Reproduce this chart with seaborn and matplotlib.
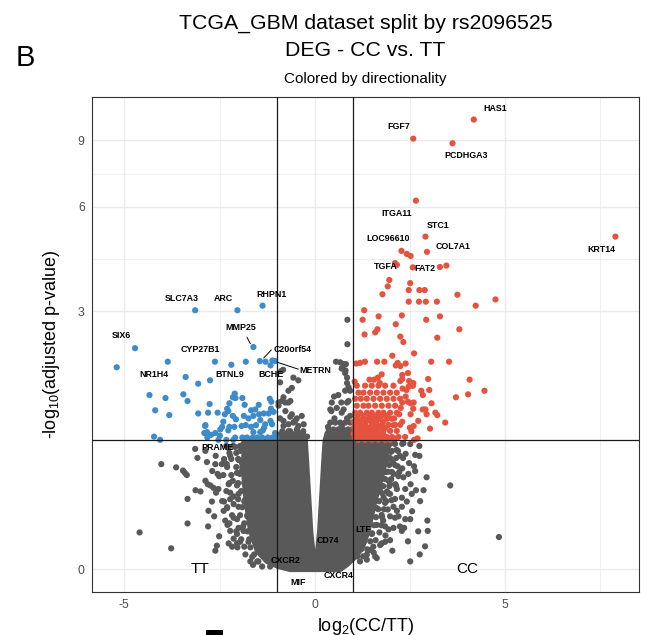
import numpy as np
import pandas as pd
import matplotlib
matplotlib.use("Agg")
import matplotlib.pyplot as plt
import seaborn as sns
from matplotlib.patches import Rectangle

sns.set_theme(style="white")
plt.rcParams['font.family'] = ['Liberation Sans', 'DejaVu Sans']
plt.rcParams['mathtext.default'] = 'regular'
plt.rcParams['text.color'] = 'black'
plt.rcParams['axes.labelcolor'] = 'black'

# ---------------- data: log2 fold change (x) and -log10 adjusted p (y) ----------------
# up-regulated in CC (significant)
up_x = [4.18, 2.59, 3.62, 2.66, 2.91, 2.95, 2.28, 2.42, 2.52, 7.90, 2.11, 2.16, 2.58, 3.29, 3.46,
        1.96, 1.92, 1.78, 2.51, 2.47, 2.75, 2.89, 3.75, 4.75,
        4.23, 2.47, 2.74, 2.92, 3.21,
        1.30, 1.26, 1.68, 2.29, 2.13, 2.93, 3.29,
        1.31, 1.59, 1.65, 2.25, 2.33, 3.22, 3.80,
        2.61, 2.04,
        1.32, 1.19, 1.09, 1.64, 1.83, 2.18, 3.06, 3.53,
        2.13, 2.25, 2.39,
        1.76, 1.66, 1.56, 1.44, 2.30, 2.30, 2.45, 2.59, 2.48, 2.98, 4.07, 1.05, 1.71, 2.25,
        3.01, 2.80, 2.84, 4.03, 3.71, 4.46, 3.07, 2.84, 2.91, 2.94, 3.17, 3.22, 3.43, 2.72, 3.03, 2.60,
        2.70, 2.61, 2.50, 2.54,
        2.45, 2.52, 2.60, 2.59, 2.52, 2.30, 2.26, 2.22, 2.30, 2.09, 2.07,
        2.39, 2.41, 2.47, 2.31, 2.58,
        1.107, 1.325, 1.500, 1.675, 1.850, 2.069,
        1.150, 1.282, 1.457, 1.632, 1.806, 1.982, 2.157,
        1.063, 1.212, 1.369, 1.544, 1.719, 1.894, 2.069, 2.244,
        1.107, 1.282, 1.413, 1.588, 1.763, 1.938, 2.113,
        1.063, 1.194, 1.369, 1.500, 1.675, 1.806, 1.982, 2.157,
        1.107, 1.265, 1.413, 1.544, 1.719, 1.894, 2.025,
        1.063, 1.194, 1.325, 1.500, 1.632, 1.763, 1.938, 2.113, 2.244,
        1.107, 1.212, 1.369, 1.500, 1.649, 1.806, 1.982, 2.157,
        1.063, 1.194, 1.352, 1.474, 1.614, 1.763, 1.894, 2.025, 2.200, 2.375,
        1.150, 1.325, 1.500, 1.675, 1.850, 1.982,
        1.02, 1.13, 1.24, 1.35, 1.46, 1.57, 1.68, 1.79,
        1.03, 1.15, 1.27, 1.40, 1.55, 1.70, 1.85,
        1.02, 1.18, 1.33, 1.48, 1.62, 1.80,
        1.12, 1.28, 1.45, 1.60, 1.75, 1.90,
        1.05, 1.25, 1.42, 1.58, 1.75, 1.92, 2.10]
up_y = [10.19, 9.10, 8.85, 6.24, 4.97, 4.50, 4.53, 4.44, 4.38, 4.97, 4.18, 4.13, 4.06, 4.07, 4.11,
        3.73, 3.57, 3.38, 3.65, 3.48, 3.48, 3.48, 3.37, 3.26,
        3.12, 3.21, 3.21, 3.21, 3.21,
        3.02, 2.82, 2.89, 2.91, 2.73, 2.82, 2.89,
        2.53, 2.57, 2.63, 2.49, 2.39, 2.47, 2.63,
        2.19, 2.15,
        2.05, 2.03, 2.02, 2.05, 2.05, 2.03, 2.05, 2.05,
        1.99, 1.98, 2.02,
        1.85, 1.80, 1.77, 1.77, 1.84, 1.78, 1.87, 1.72, 1.75, 1.78, 1.77, 1.74, 1.72, 1.75,
        1.62, 1.61, 1.55, 1.56, 1.52, 1.61, 1.44, 1.36, 1.36, 1.30, 1.32, 1.29, 1.20, 1.22, 1.13, 1.16,
        1.02, 1.005, 1.14, 1.10,
        1.46, 1.44, 1.45, 1.37, 1.30, 1.45, 1.38, 1.30, 1.21, 1.25, 1.17,
        1.53, 1.62, 1.67, 1.64, 1.68,
        1.682, 1.682, 1.682, 1.682, 1.682, 1.682,
        1.583, 1.583, 1.583, 1.583, 1.583, 1.583, 1.583,
        1.500, 1.500, 1.500, 1.500, 1.500, 1.500, 1.500, 1.500,
        1.408, 1.408, 1.408, 1.408, 1.408, 1.408, 1.408,
        1.319, 1.319, 1.319, 1.319, 1.319, 1.319, 1.319, 1.319,
        1.245, 1.245, 1.245, 1.245, 1.245, 1.245, 1.245,
        1.173, 1.173, 1.173, 1.173, 1.173, 1.173, 1.173, 1.173, 1.173,
        1.104, 1.104, 1.104, 1.104, 1.104, 1.104, 1.104, 1.104,
        1.037, 1.037, 1.037, 1.037, 1.037, 1.037, 1.037, 1.037, 1.037, 1.037,
        1.005, 1.005, 1.005, 1.005, 1.005, 1.005,
        1.07, 1.07, 1.07, 1.07, 1.07, 1.07, 1.07, 1.07,
        1.14, 1.14, 1.14, 1.14, 1.14, 1.14, 1.14,
        1.21, 1.21, 1.21, 1.21, 1.21, 1.21,
        1.28, 1.28, 1.28, 1.28, 1.28, 1.28,
        1.02, 1.02, 1.02, 1.02, 1.02, 1.02, 1.02]

# down-regulated in CC (significant)
down_x = [-3.14, -2.03, -1.37, -1.61, -4.72, -5.20, -3.86, -2.62, -3.39, -2.19, -2.75, -3.06, -1.81,
          -1.44, -1.29, -1.11, -1.16, -1.04,
          -4.34, -3.92, -3.45, -3.34, -4.19, -3.82, -3.06, -2.80, -2.55, -4.22, -4.06, -2.88, -2.82, -2.49,
          -2.10, -2.15, -2.08, -1.90, -2.30, -1.84, -1.18, -1.14, -2.36, -2.27, -2.40, -2.43, -2.15, -2.07,
          -1.86, -1.74, -1.61, -1.67, -1.56, -1.46, -1.34, -1.21, -1.15, -1.08, -1.43, -1.30, -1.16, -1.12,
          -2.24, -2.11, -1.92, -1.81, -1.67, -1.54, -2.48, -2.27,
          -2.09, -1.90, -1.78, -1.63, -1.51, -1.38, -1.23, -1.11,
          -2.53, -2.32, -2.72, -1.61, -1.43, -1.33, -2.76, -2.24, -1.47,
          -2.87, -2.83, -2.90, -2.61, -1.04, -1.01, -1.36, -2.14]
down_y = [3.02, 3.02, 3.12, 2.30, 2.28, 1.96, 2.05, 2.05, 1.81, 2.00, 1.76, 1.71, 2.05,
          2.06, 2.05, 2.07, 1.99, 2.06,
          1.55, 1.51, 1.56, 1.47, 1.35, 1.29, 1.31, 1.32, 1.32, 1.04, 1.005, 1.16, 1.03, 1.05,
          1.57, 1.52, 1.51, 1.51, 1.37, 1.42, 1.50, 1.46, 1.30, 1.34, 1.21, 1.15, 1.28, 1.24,
          1.28, 1.25, 1.28, 1.35, 1.36, 1.30, 1.31, 1.31, 1.37, 1.33, 1.23, 1.18, 1.22, 1.18,
          1.15, 1.15, 1.16, 1.17, 1.15, 1.17, 1.12, 1.11,
          1.03, 1.03, 1.03, 1.03, 1.03, 1.03, 1.03, 1.03,
          1.005, 1.005, 1.06, 1.09, 1.09, 1.14, 1.43, 1.44, 1.42,
          1.17, 1.09, 1.08, 1.08, 1.08, 1.03, 1.11, 1.005]

# not significant: genes outside the solid core
ns_x = [-4.03, -3.64, -3.46, -3.41, -3.36, -3.14, -3.08, -2.83, -2.60, -2.38, -2.31, -2.55, -2.51,
        -2.81, -2.74, -3.13, -3.00, -3.34, -2.66, -2.59, -2.70, -2.79, -2.38, -2.30, -2.39, -2.35,
        -2.29, -3.34, -4.60, -3.77, -2.57, -2.61, -2.26, -2.17, -2.04, -1.85, -1.62, -2.04, -2.00,
        -1.87, -2.13, -2.04, -2.13, -2.00, -2.22, -2.13, -2.00, -2.26, -2.15, -2.04, -2.04, -1.97,
        -1.91, -2.00, -1.91, -1.85, -1.91, -1.78, -1.87, -1.71, -1.59,
        -1.82, -1.88, -1.80, -1.85, -1.77, -1.88, -1.74, -1.64, -1.51, -2.27, -2.09, -1.96, -2.22,
        -2.01, -2.61, -2.44, -2.87, -2.22, -2.13, -1.96,
        # left shoulder of the cloud
        -2.32, -2.14, -1.96, -2.24, -2.06, -2.38, -2.19, -1.85, -2.30, -2.06, -1.90,
        -2.40, -2.19, -1.82, -2.24, -2.01, -1.85, -2.32, -1.93, -2.22, -2.01, -1.82,
        -2.30, -1.90, -2.17, -1.96, -1.77, -2.24, -1.85, -2.06, -1.77, -1.93, -1.72,
        -2.03, -1.69, -1.82, -1.59, -1.69, -1.48, -1.38, -1.17,
        -2.69, -2.53, -2.87, -2.43, -2.64, -2.51, -2.80,
        # right side, below threshold
        2.09, 2.33, 2.51, 2.75, 2.24, 2.39, 2.64, 2.75, 2.30, 2.48, 2.61, 2.07, 2.20, 2.33, 2.46,
        2.94, 3.56, 1.98, 2.16, 2.38, 2.52, 2.66, 2.86, 1.98, 2.11, 2.29, 2.42, 2.55, 1.85, 2.07,
        2.29, 1.98, 2.11, 2.20, 2.38, 2.51, 2.96, 2.97, 4.84, 1.85, 1.94, 2.07, 2.24, 2.35, 2.29,
        1.76, 1.85, 1.98, 1.54, 1.72, 2.04, 2.76, 1.37, 1.59, 1.63, 1.19, 1.37,
        1.72, 1.89, 1.81, 1.94, 1.72, 1.81, 1.63, 1.76, 1.63, 1.50, 1.95, 2.00, 1.90,
        2.15, 2.05, 2.18, 1.93, 2.12, 1.90, 2.02, 1.92, 2.16, 1.80, 1.70, 1.86, 1.60, 1.45, 1.55,
        # right shoulder of the cloud
        1.93, 2.11, 2.30, 1.88, 2.03, 2.19, 1.82, 1.98, 2.14, 2.32, 1.80, 1.96, 2.11,
        1.72, 1.88, 2.03, 2.22, 1.69, 1.85, 2.01, 1.64, 1.80, 1.96, 2.14, 1.61, 1.77, 1.93,
        1.54, 1.69, 1.88, 1.51, 1.67, 1.82, 1.46, 1.61, 1.77, 1.40, 1.56, 1.75,
        1.35, 1.51, 1.30, 1.46, 1.22, 1.38, 1.12, 1.27,
        2.64, 2.77, 2.56, 2.72, 2.45, 2.90, 2.51,
        # above threshold, small fold change
        0.86, 0.86, 0.56, 0.67, 0.82, 0.72, 0.81, 0.85, 0.51, 0.41, 0.44, 0.89, 0.93,
        -0.56, -0.43, -0.91, -0.69, -0.86, -0.77, -0.64, -0.95, -0.60, -0.47, -0.34,
        -0.82, -0.69, -0.56, -0.43, -0.29, -0.85, -0.64, -0.45, -0.30,
        0.41, 0.54, 0.67, 0.80, 0.93, 0.37, 0.49, 0.62, 0.75, 0.88, 0.97, 0.41, 0.67, 0.93,
        0.58, 0.71, 0.85, 0.93, -0.95, -0.82, -0.69, -0.77, -0.91, -0.64, -0.51, -0.82, -0.69,
        -0.47, -0.34, -0.20, -0.91, -0.77, -0.60, 0.76, 0.71, 0.80, 0.85, 0.80, 0.89, 0.76,
        0.85, 0.71, 0.89, -0.88, -0.60, -0.83, 0.45, 0.62, 0.52, 0.35, 0.60, 0.78, 0.70, 0.48]
ns_y = [0.76, 0.73, 0.70, 0.68, 0.66, 0.91, 0.82, 0.78, 0.84, 0.78, 0.76, 0.67, 0.65,
        0.58, 0.57, 0.53, 0.52, 0.46, 0.55, 0.51, 0.44, 0.37, 0.44, 0.39, 0.37, 0.30,
        0.27, 0.28, 0.22, 0.12, 0.136, 0.106, 0.15, 0.13, 0.15, 0.13, 0.025, 0.21, 0.25,
        0.23, 0.32, 0.31, 0.42, 0.40, 0.51, 0.48, 0.50, 0.58, 0.61, 0.57, 0.68, 0.67,
        0.70, 0.80, 0.77, 0.81, 0.91, 0.89, 0.96, 0.96, 0.94,
        0.84, 0.70, 0.57, 0.44, 0.33, 0.26, 0.16, 0.07, 0.044, 0.92, 0.93, 0.89, 0.84,
        0.81, 0.76, 0.76, 0.89, 0.23, 0.18, 0.16,
        0.941, 0.941, 0.941, 0.869, 0.869, 0.809, 0.809, 0.809, 0.733, 0.733, 0.733,
        0.660, 0.660, 0.660, 0.590, 0.590, 0.590, 0.523, 0.523, 0.458, 0.458, 0.458,
        0.397, 0.397, 0.338, 0.338, 0.338, 0.281, 0.281, 0.227, 0.227, 0.176, 0.176,
        0.126, 0.126, 0.084, 0.084, 0.044, 0.044, 0.016, 0.016,
        0.696, 0.54, 0.61, 0.443, 0.33, 0.195, 0.26,
        0.97, 0.97, 0.96, 0.94, 0.84, 0.86, 0.85, 0.84, 0.72, 0.77, 0.74, 0.67, 0.65, 0.64, 0.67,
        0.64, 0.57, 0.58, 0.54, 0.54, 0.58, 0.53, 0.53, 0.50, 0.46, 0.47, 0.44, 0.50, 0.43, 0.40,
        0.40, 0.33, 0.32, 0.33, 0.31, 0.31, 0.30, 0.23, 0.19, 0.26, 0.24, 0.25, 0.26, 0.25, 0.23,
        0.15, 0.16, 0.17, 0.13, 0.14, 0.106, 0.084, 0.083, 0.072, 0.063, 0.044, 0.054,
        0.89, 0.79, 0.70, 0.61, 0.55, 0.47, 0.39, 0.34, 0.27, 0.21, 0.95, 0.88, 0.90,
        0.90, 0.78, 0.74, 0.69, 0.58, 0.52, 0.45, 0.38, 0.37, 0.30, 0.22, 0.20, 0.17, 0.11, 0.095,
        0.962, 0.962, 0.962, 0.889, 0.889, 0.889, 0.819, 0.819, 0.819, 0.819, 0.752, 0.752, 0.752,
        0.687, 0.687, 0.687, 0.687, 0.624, 0.624, 0.624, 0.564, 0.564, 0.564, 0.564, 0.506, 0.506, 0.506,
        0.443, 0.443, 0.443, 0.382, 0.382, 0.382, 0.324, 0.324, 0.324, 0.268, 0.268, 0.268,
        0.214, 0.214, 0.163, 0.163, 0.114, 0.114, 0.073, 0.073,
        0.696, 0.443, 0.367, 0.227, 0.163, 0.132, 0.044,
        2.82, 2.35, 2.05, 2.04, 2.01, 1.95, 1.91, 1.80, 1.53, 1.36, 1.34, 1.66, 1.61,
        1.80, 1.76, 1.73, 1.61, 1.47, 1.45, 1.47, 1.41, 1.30, 1.25, 1.28,
        1.22, 1.18, 1.20, 1.16, 1.18, 1.10, 1.10, 1.10, 1.10,
        1.20, 1.20, 1.20, 1.20, 1.20, 1.12, 1.12, 1.12, 1.12, 1.12, 1.12, 1.03, 1.03, 1.03,
        1.38, 1.32, 1.45, 1.28, 1.45, 1.52, 1.45, 1.34, 1.25, 1.27, 1.22, 1.16, 1.10,
        1.12, 1.06, 1.04, 1.04, 1.01, 1.03, 2.01, 1.94, 1.87, 1.72, 1.61, 1.47, 1.36,
        1.25, 1.16, 1.10, 1.90, 1.65, 1.92, 1.45, 1.55, 1.25, 1.15, 1.07, 1.06, 1.45, 1.05]

# outline of the solid mass of non-significant genes (thousands of overlapping points)
core_x = [-1.85, -0.92, -0.92, -0.30, -0.249, -0.21, -0.157, -0.105, -0.052, -0.013,
          0.039, 0.079, 0.131, 0.184, 0.236, 0.276, 0.33, 0.93, 0.93, 1.98, 1.92, 1.80,
          1.58, 1.40, 1.26, 1.08, 0.85, 0.669, -0.643, -0.95, -1.25, -1.50, -1.68,
          -1.80, -1.87]
core_y = [1.0, 1.0, 1.07, 1.07, 1.0, 0.761, 0.466, 0.227, 0.102, 0.044,
          0.044, 0.102, 0.227, 0.466, 0.761, 1.0, 1.08, 1.08, 1.0, 1.0, 0.92, 0.696,
          0.443, 0.227, 0.132, 0.073, 0.027, 0.0, 0.0, 0.016, 0.044, 0.102, 0.227,
          0.443, 0.696]

# gene labels (label anchor positions in data units)
gene_names = ["HAS1", "FGF7", "PCDHGA3", "ITGA11", "STC1", "COL7A1", "LOC96610", "KRT14",
              "TGFA", "FAT2", "SLC7A3", "ARC", "RHPN1", "MMP25", "SIX6", "CYP27B1",
              "C20orf54", "NR1H4", "BTNL9", "BCHE", "METRN", "PRAME", "CXCR2", "CD74",
              "LTF", "CXCR4", "MIF"]
gene_lab_x = [4.73, 2.22, 3.97, 2.14, 3.25, 3.64, 1.92, 7.54, 1.88, 2.90, -3.50, -2.39, -1.13,
              -1.93, -5.07, -3.00, -0.57, -4.21, -2.24, -1.14, 0.01, -2.54, -0.76, 0.35,
              1.27, 0.62, -0.43]
gene_lab_y = [10.87, 9.78, 8.22, 5.77, 5.35, 4.67, 4.91, 4.57, 4.09, 4.03, 3.28, 3.28, 3.37,
              2.67, 2.51, 2.25, 2.25, 1.84, 1.85, 1.84, 1.91, 0.92, 0.051, 0.169,
              0.236, -0.032, -0.066]

# connector segments for repelled labels: (x0, y0) -> (x1, y1)
seg_x0 = [-1.78, -1.14, -0.98]
seg_y0 = [2.48, 2.25, 2.04]
seg_x1 = [-1.69, -1.34, -0.43]
seg_y1 = [2.36, 2.11, 1.93]

group_labels = ["TT", "CC"]
group_x = [-3.0, 4.0]
group_y = [0.0, 0.0]

x_breaks = [-5, 0, 5]
x_minor = [-2.5, 2.5, 7.5]
y_breaks = [0, 3, 6, 9]
lfc_cut = 1.0
padj_cut = 1.0

col_up = "#E5533F"
col_down = "#3D8BC8"
col_ns = "#595959"

df = pd.concat([
    pd.DataFrame({"lfc": ns_x, "nlp": ns_y, "direction": "ns"}),
    pd.DataFrame({"lfc": down_x, "nlp": down_y, "direction": "down"}),
    pd.DataFrame({"lfc": up_x, "nlp": up_y, "direction": "up"}),
], ignore_index=True)

# ---------------- figure ----------------
W, H = 649, 635
fig = plt.figure(figsize=(W / 100, H / 100), dpi=100)
ax = fig.add_axes([92 / W, 1 - 592 / H, (639 - 92) / W, (592 - 97) / H])

ax.set_yscale('function', functions=(np.log1p, np.expm1))
ax.set_xlim(-5.85, 8.52)
ax.set_ylim(np.expm1(-0.121), np.expm1(2.536))

# theme_bw-like grid
ax.set_xticks(x_breaks)
ax.set_xticklabels([str(v) for v in x_breaks])
ax.set_xticks(x_minor, minor=True)
ax.set_yticks(y_breaks)
ax.set_yticklabels([str(v) for v in y_breaks])
lb = np.log1p(np.array(y_breaks, dtype=float))
ax.set_yticks(np.expm1((lb[:-1] + lb[1:]) / 2), minor=True)
ax.set_axisbelow(True)
ax.grid(which='major', color="#EBEBEB", linewidth=1.0)
ax.grid(which='minor', color="#EBEBEB", linewidth=0.55)
ax.tick_params(which='major', length=3.3, width=0.75, color="#333333",
               labelsize=8.8, labelcolor="#4D4D4D", pad=2)
ax.tick_params(which='minor', length=0)
for s in ax.spines.values():
    s.set_edgecolor("#333333")
    s.set_linewidth(0.8)

# solid core of non-significant genes
ax.fill(core_x, core_y, facecolor=col_ns, edgecolor=col_ns, linewidth=3.8,
        joinstyle='round', zorder=1.5)

sns.scatterplot(data=df, x="lfc", y="nlp", hue="direction",
                palette={"ns": col_ns, "down": col_down, "up": col_up},
                s=20, linewidth=0, legend=False, ax=ax, zorder=2)

# thresholds
ax.axhline(padj_cut, color="#1A1A1A", linewidth=0.9, zorder=3)
ax.axvline(-lfc_cut, color="#1A1A1A", linewidth=0.9, zorder=3)
ax.axvline(lfc_cut, color="#1A1A1A", linewidth=0.9, zorder=3)

# gene labels
for name, lx, ly in zip(gene_names, gene_lab_x, gene_lab_y):
    ax.text(lx, ly, name, fontsize=6.4, fontweight='bold', color='black',
            ha='center', va='center', zorder=4)
for x0, y0, x1, y1 in zip(seg_x0, seg_y0, seg_x1, seg_y1):
    ax.plot([x0, x1], [y0, y1], color='black', linewidth=0.7, zorder=4)

for g, gx, gy in zip(group_labels, group_x, group_y):
    ax.text(gx, gy, g, fontsize=11, color='black', ha='center', va='center', zorder=4)

ax.set_xlabel("log$_2$(CC/TT)", fontsize=13, labelpad=3)
ax.set_ylabel("-log$_{10}$(adjusted p-value)", fontsize=13, labelpad=11)

# titles
cx = (92 + 639) / 2 / W
fig.text(cx, 1 - 23 / H, "TCGA_GBM dataset split by rs2096525", fontsize=15.3,
         ha='center', va='center')
fig.text(cx, 1 - 51 / H, "DEG - CC vs. TT", fontsize=15.3, ha='center', va='center')
fig.text(cx, 1 - 79 / H, "Colored by directionality", fontsize=11, ha='center', va='center')
fig.text(25 / W, 1 - 58 / H, "B", fontsize=21, ha='center', va='center')

fig.add_artist(Rectangle((206 / W, 0), 17 / W, 5 / H, transform=fig.transFigure,
                         facecolor='black', edgecolor='none'))

fig.savefig("out.png", dpi=100)
